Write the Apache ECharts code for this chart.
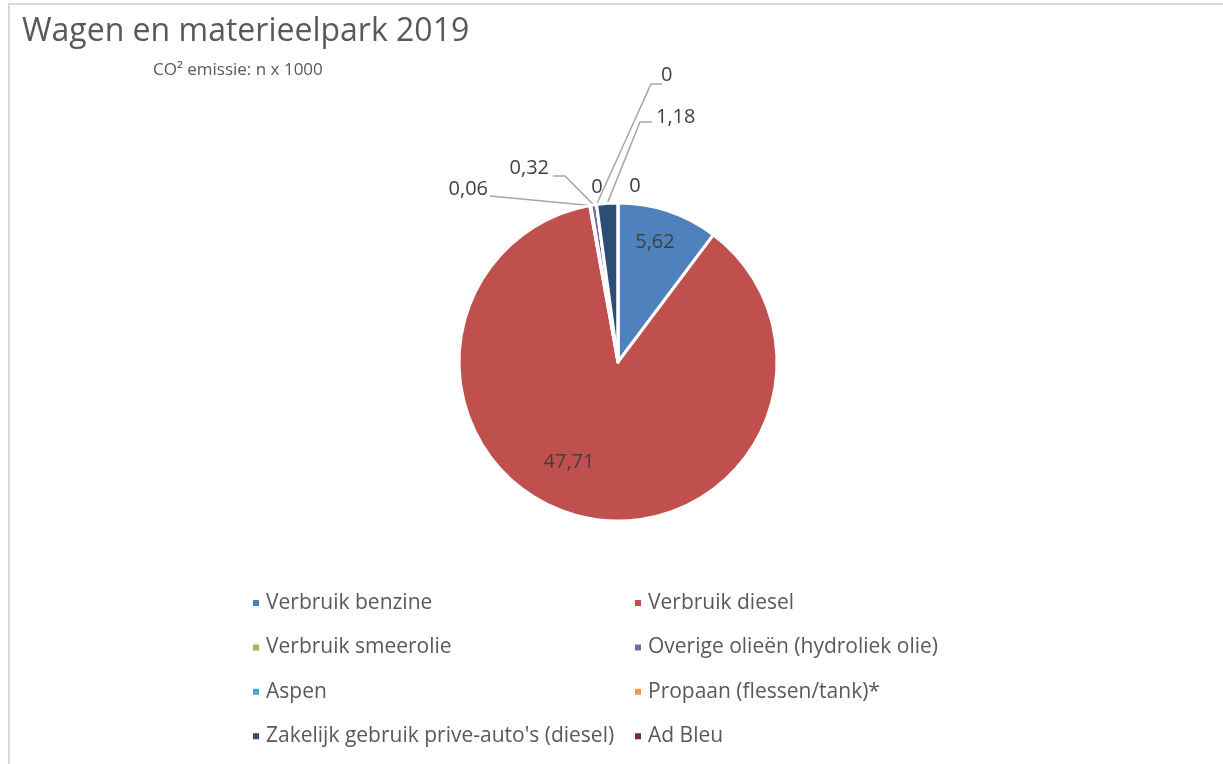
<!DOCTYPE html>
<html>
<head>
<meta charset="utf-8">
<script src="https://cdn.jsdelivr.net/npm/echarts@6/dist/echarts.min.js"></script>
<style>
  html, body { margin: 0; padding: 0; background: #fff; }
  #frame { position: absolute; left: 8px; top: 3px; width: 1230px; height: 780px; border: 2px solid #d9d9d9; box-sizing: border-box; }
  #chart { position: absolute; left: 0; top: 0; width: 1223px; height: 764px; }
</style>
</head>
<body>
<div id="frame"></div>
<div id="chart"></div>
<script>
// ---- data ----
const titleText = 'Wagen en materieelpark 2019';
const subtitleText = 'CO² emissie: n x 1000';
const categories = [
  'Verbruik benzine',
  'Verbruik diesel',
  'Verbruik smeerolie',
  'Overige olieën (hydroliek olie)',
  'Aspen',
  'Propaan (flessen/tank)*',
  "Zakelijk gebruik prive-auto's (diesel)",
  'Ad Bleu'
];
const values = [5.62, 47.71, 0.06, 0.32, 0, 0, 1.18, 0];
const colors = ['#4F81BD', '#C0504D', '#9BBB59', '#8064A2', '#4BACC6', '#F79646', '#2C4D75', '#772C2A'];

// ---- label placement (style only): [anchorX, anchorY, align] ----
const labelPlace = [
  [655, 242, 'center'],
  [569, 462, 'center'],
  [488, 189, 'right'],
  [549, 168, 'right'],
  [597, 187, 'center'],
  [661, 75, 'left'],
  [656, 117, 'left'],
  [635, 186, 'center']
];
// leader line shape for some labels: [bendX, bendY, endX, endY]
const leaderBends = {
  2: [490, 196, 490, 196],
  3: [565, 176, 553, 176],
  5: [651, 84, 662, 84],
  6: [640, 122, 652, 122]
};

const fmt = v => String(v).replace('.', ',');

const chart = echarts.init(document.getElementById('chart'), null, { renderer: 'canvas' });
const textColor = '#595959';
const fontFamily = '"Open Sans", "Noto Sans", sans-serif';

const leftNames = [categories[0], categories[2], categories[4], categories[6]];
const rightNames = [categories[1], categories[3], categories[5], categories[7]];

const legendCommon = {
  orient: 'vertical',
  top: 587,
  itemWidth: 8,
  itemHeight: 8,
  itemGap: 22.4,
  icon: 'rect',
  selectedMode: false,
  textStyle: { color: textColor, fontSize: 21, fontFamily: fontFamily, lineHeight: 22, padding: [0, 0, 0, 1] }
};

chart.setOption({
  animation: false,
  color: colors,
  title: [
    { text: titleText, left: 17, top: 11, textStyle: { color: textColor, fontSize: 32, fontWeight: 'normal', fontFamily: fontFamily } },
    { text: subtitleText, left: 148, top: 57, textStyle: { color: textColor, fontSize: 17, fontWeight: 'normal', fontFamily: fontFamily } }
  ],
  legend: [
    Object.assign({}, legendCommon, { left: 246, data: leftNames }),
    Object.assign({}, legendCommon, { left: 628, data: rightNames })
  ],
  series: [{
    type: 'pie',
    center: [618, 362],
    radius: 159,
    startAngle: 90,
    clockwise: true,
    avoidLabelOverlap: false,
    stillShowZeroSum: true,
    itemStyle: { borderColor: '#fff', borderWidth: 3 },
    label: {
      show: true,
      position: 'outside',
      color: '#404040',
      fontSize: 20,
      fontFamily: fontFamily,
      formatter: p => fmt(p.value)
    },
    labelLine: { show: true, length: 10, length2: 10, lineStyle: { color: '#a6a6a6', width: 1.5 } },
    labelLayout: params => {
      const i = params.dataIndex;
      const p = labelPlace[i];
      const w = params.labelRect.width;
      let x = p[0];
      if (p[2] === 'right') x = p[0] - w / 2;
      else if (p[2] === 'left') x = p[0] + w / 2;
      const out = { x: x, y: p[1], align: 'center', verticalAlign: 'middle' };
      const b = leaderBends[i];
      if (b && params.labelLinePoints) {
        const start = params.labelLinePoints[0];
        out.labelLinePoints = [start, [b[0], b[1]], [b[2], b[3]]];
      }
      return out;
    },
    data: categories.map((c, i) => {
      const item = { name: c, value: values[i] };
      if (!leaderBends[i]) item.labelLine = { show: false };
      return item;
    })
  }]
});
</script>
</body>
</html>
